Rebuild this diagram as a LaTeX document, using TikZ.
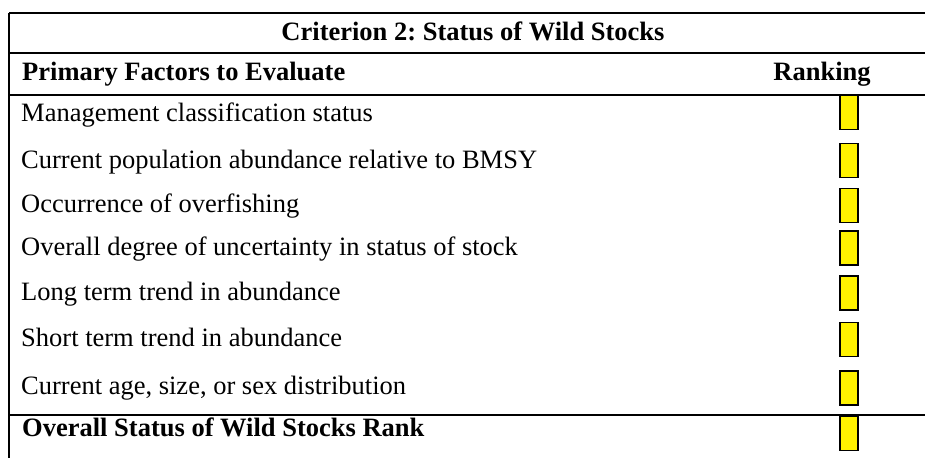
\documentclass[tikz,border=0pt]{standalone}
\usepackage{fontspec}
\setmainfont{Liberation Serif}
\usetikzlibrary{positioning}
\frenchspacing

\tikzset{
  factor/.style={anchor=base west, inner sep=0pt, font=\fontsize{26.5}{30}\selectfont},
  headtxt/.style={inner sep=0pt, font=\fontsize{26.5}{30}\selectfont\bfseries},
  rankbox/.style={draw, line width=1.8pt, fill=yellow, minimum width=18.5pt, minimum height=34pt, inner sep=0pt},
  rule/.style={line width=1.8pt}
}

\begin{document}
\begin{tikzpicture}[x=1pt, y=-1pt]
      \useasboundingbox (0,0) rectangle (925,458);

      % table lines
      \coordinate (tl) at (9,13);
      \coordinate (tr) at (925,13);
      \coordinate (bl) at (9,458);
      \draw[rule] (tl) -- (tr);
      \draw[rule] (9,53) -- (925,53);
      \draw[rule] (9,95) -- (925,95);
      \draw[rule] (9,415) -- (925,415);
      \draw[rule] (tl) -- (bl);

      % header
      \node[headtxt, anchor=base] (crit) at (473,40) {Criterion 2: Status of Wild Stocks};
      \node[headtxt, anchor=base west] (prim) at (22,80) {Primary Factors to Evaluate};
      \node[headtxt, anchor=base] (rank) at (822,80) {Ranking};

      % factors
      \node[factor] (f1) at (21,121) {Management classification status};
      \node[factor] (f2) at (21,168) {Current population abundance relative to BMSY};
      \node[factor] (f3) at (21,212) {Occurrence of overfishing};
      \node[factor] (f4) at (21,255) {Overall degree of uncertainty in status of stock};
      \node[factor] (f5) at (21,300) {Long term trend in abundance};
      \node[factor] (f6) at (21,346) {Short term trend in abundance};
      \node[factor] (f7) at (21,394) {Current age, size, or sex distribution};
      \node[headtxt, anchor=base west] (f8) at (22,436) {Overall Status of Wild Stocks Rank};

      % ranking boxes
      \node[rankbox] (b1) at (849,112.5) {};
      \node[rankbox] (b2) at (849,160.5) {};
      \node[rankbox] (b3) at (849,205.5) {};
      \node[rankbox] (b4) at (849,248) {};
      \node[rankbox] (b5) at (849,293) {};
      \node[rankbox] (b6) at (849,339.5) {};
      \node[rankbox] (b7) at (849,388) {};
      \node[rankbox] (b8) at (849,433.5) {};
    \end{tikzpicture}
\end{document}
